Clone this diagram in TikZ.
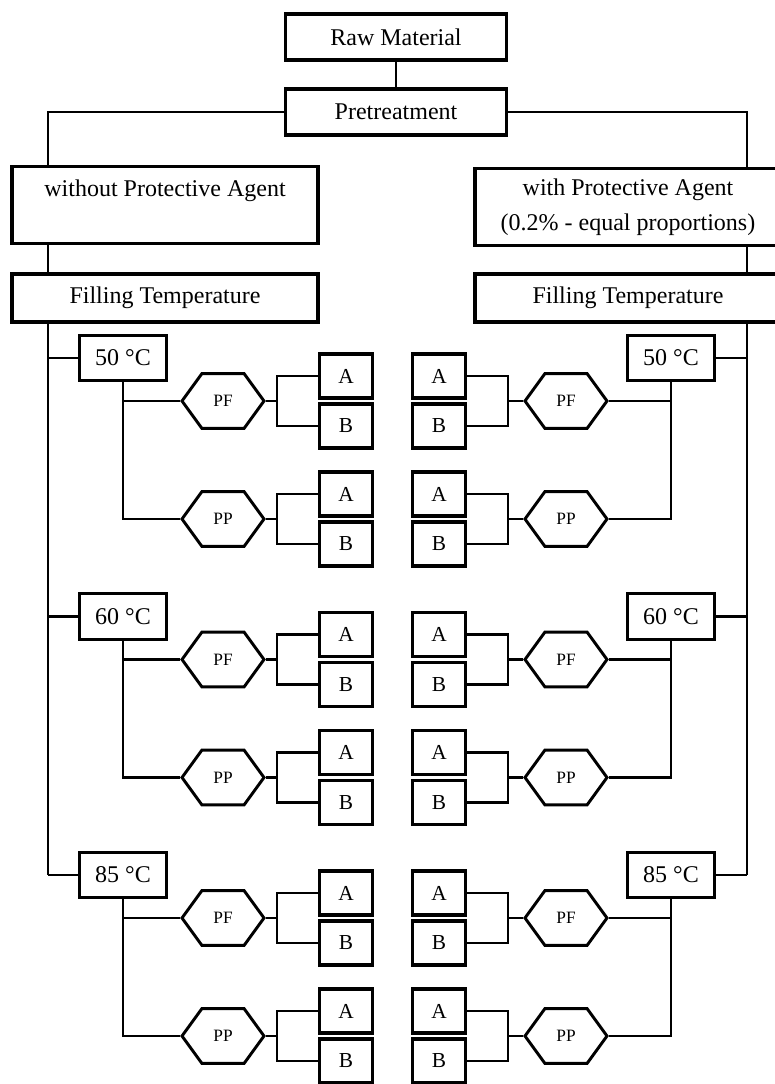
\documentclass[tikz,border=0pt]{standalone}
\usepackage{fontspec}
\setmainfont{Liberation Serif}
\usetikzlibrary{positioning,shapes.symbols}

\begin{document}
\begin{tikzpicture}
[
  x=0.75pt, y=-0.75pt,
  box/.style={draw, rectangle, line width=2.3pt, inner sep=0pt, font=\fontsize{18}{26}\selectfont},
  topbox/.style={box, minimum width=166pt, minimum height=34.5pt},
  widebox/.style={box, minimum width=229.5pt, align=center},
  tempbox/.style={box, minimum width=65pt, minimum height=34pt},
  abbox/.style={box, line width=2.6pt, minimum width=39.5pt, minimum height=33pt, font=\fontsize{16}{16}\selectfont},
  hexa/.style={signal, signal to=east and west, signal pointer angle=108, draw, line width=2.2pt,
    minimum width=61.5pt, minimum height=41pt, inner sep=0pt, font=\fontsize{13}{13}\selectfont},
  link/.style={line width=1.7pt}
]
 \useasboundingbox (0,0) rectangle (774,1084);

 \node[topbox] (raw) at (396,37) {Raw Material};
 \node[topbox] (pre) at (396,112) {Pretreatment};
 \node[widebox, minimum height=58pt] (without) at (165,205) {without Protective Agent\\[-8pt] \strut};
 \node[widebox, minimum height=58pt] (with) at (628,207) {with Protective Agent\\(0.2\% - equal proportions)};
 \node[widebox, minimum height=36pt] (filll) at (165,298) {Filling Temperature};
 \node[widebox, minimum height=36pt] (fillr) at (628,298) {Filling Temperature};

 \coordinate (lbus) at (48,0);
 \coordinate (rbus) at (747,0);

 \draw[link] (raw) -- (pre);
 \draw[link] (pre.west) -| (lbus |- without.north);
 \draw[link] (pre.east) -| (rbus |- with.north);
 \draw[link] (lbus |- without.south) -- (lbus |- filll.north);
 \draw[link] (rbus |- with.south) -- (rbus |- fillr.north);

 % temperatures, left and right
 \foreach \tmp [count=\i] in {50,60,85} {
   \pgfmathsetmacro{\ty}{358+258.5*(\i-1)}
   \node[tempbox] (tl\i) at (123,\ty) {\tmp{} °C};
   \node[tempbox] (tr\i) at (671,\ty) {\tmp{} °C};
   \draw[link] (lbus |- tl\i.west) -- (tl\i.west);
   \draw[link] (rbus |- tr\i.east) -- (tr\i.east);
   \foreach \kind/\dy in {PF/43,PP/161} {
     % left branch
     \node[hexa] (hl\i\kind) at (223,\ty+\dy) {\kind};
     \node[abbox] (al\i\kind) at (346,\ty+\dy-25) {A};
     \node[abbox] (bl\i\kind) at (346,\ty+\dy+25) {B};
     \coordinate (jl\i\kind) at (277,\ty+\dy);
     \draw[link] (tl\i.south) |- (hl\i\kind.west);
     \draw[link] (hl\i\kind.east) -- (jl\i\kind);
     \draw[link] (al\i\kind.west) -| (jl\i\kind) |- (bl\i\kind.west);
     % right branch
     \node[hexa] (hr\i\kind) at (566,\ty+\dy) {\kind};
     \node[abbox] (ar\i\kind) at (439,\ty+\dy-25) {A};
     \node[abbox] (br\i\kind) at (439,\ty+\dy+25) {B};
     \coordinate (jr\i\kind) at (508,\ty+\dy);
     \draw[link] (tr\i.south) |- (hr\i\kind.east);
     \draw[link] (hr\i\kind.west) -- (jr\i\kind);
     \draw[link] (ar\i\kind.east) -| (jr\i\kind) |- (br\i\kind.east);
   }
 }

 \draw[link] (lbus |- filll.south) -- (lbus |- tl3.west);
 \draw[link] (rbus |- fillr.south) -- (rbus |- tr3.east);
\end{tikzpicture}
\end{document}
